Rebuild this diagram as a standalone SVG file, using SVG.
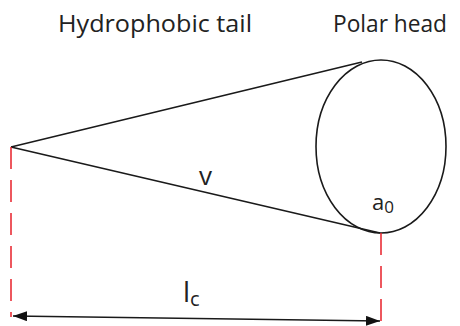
<svg xmlns="http://www.w3.org/2000/svg" width="460" height="326" viewBox="0 0 460 326">
<style>
text{font-family:"Open Sans","Liberation Sans",sans-serif;fill:#222}
.ln{stroke:#1a1a1a;stroke-width:1.6;fill:none}
.dash{stroke:#e8202a;stroke-width:1.5;stroke-dasharray:22,11;fill:none}
</style>
<defs>
<marker id="ah" markerWidth="14" markerHeight="10" refX="14" refY="5" orient="auto-start-reverse" markerUnits="userSpaceOnUse"><path d="M0,0 L14,5 L0,10 Z" fill="#111"/></marker>
</defs>
<rect width="460" height="326" fill="#fff"/>
<g id="labels">
<text x="58" y="32" font-size="24" textLength="194" lengthAdjust="spacingAndGlyphs">Hydrophobic tail</text>
<text x="333" y="32" font-size="24" textLength="114" lengthAdjust="spacingAndGlyphs">Polar head</text>
</g>
<g id="cone">
<ellipse cx="381" cy="146.5" rx="65" ry="86.5" class="ln"/>
<text x="199" y="185" font-size="26">v</text>
<text x="372" y="210" font-size="22">a<tspan font-size="17" dy="3">0</tspan></text>
</g>
<g id="connectors">
<line x1="11" y1="147" x2="362" y2="62" class="ln"/>
<line x1="11" y1="147" x2="380" y2="233" class="ln"/>
<line x1="11" y1="147" x2="11" y2="317" class="dash"/>
<line x1="381" y1="233" x2="381" y2="322" class="dash"/>
<line x1="13" y1="316" x2="380" y2="321" class="ln" marker-start="url(#ah)" marker-end="url(#ah)"/>
<text x="183" y="302" font-size="28">l<tspan font-size="20" dy="4">c</tspan></text>
</g>
</svg>
